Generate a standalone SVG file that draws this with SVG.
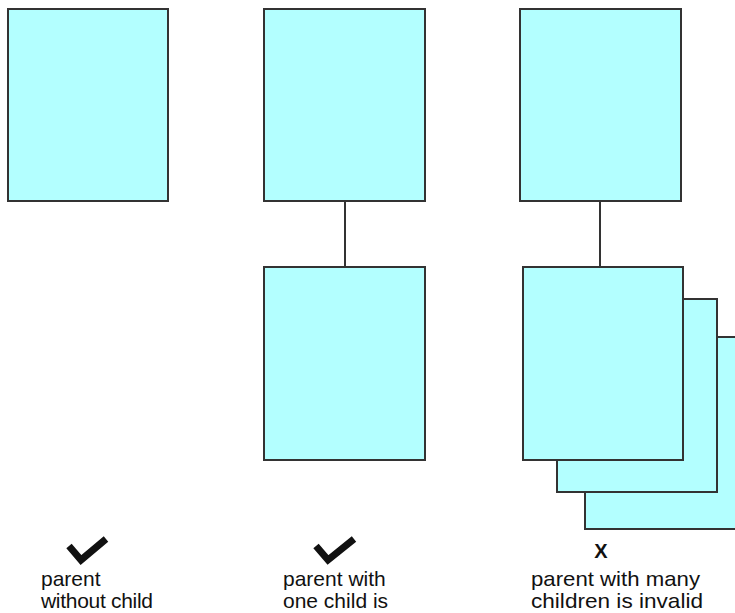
<svg xmlns="http://www.w3.org/2000/svg" width="735" height="613" viewBox="0 0 735 613">
<style>
.box{fill:#b3ffff;stroke:#333;stroke-width:2}
.conn{stroke:#333;stroke-width:2;fill:none}
.lbl{font-family:"Liberation Sans",Arial,sans-serif;font-size:21px;fill:#111}
.chk{fill:none;stroke:#111;stroke-width:7;stroke-linejoin:miter;stroke-linecap:butt}
</style>
<rect width="735" height="613" fill="#fff"/>
<g id="parent1"><rect class="box" x="8" y="9" width="160" height="192"/></g>
<g id="parent2"><rect class="box" x="264" y="9" width="161" height="192"/></g>
<g id="child2"><rect class="box" x="264" y="267" width="161" height="193"/></g>
<g id="parent3"><rect class="box" x="520" y="9" width="161" height="192"/></g>
<g id="child3c"><rect class="box" x="585" y="337" width="161" height="192"/></g>
<g id="child3b"><rect class="box" x="557" y="299" width="160" height="193"/></g>
<g id="child3a"><rect class="box" x="523" y="267" width="160" height="193"/></g>
<g id="connectors">
<line class="conn" x1="345" y1="201" x2="345" y2="267"/>
<line class="conn" x1="600" y1="201" x2="600" y2="267"/>
</g>
<g id="label1">
<path class="chk" d="M69,546 L81,560 L106,539"/>
<text class="lbl" x="41" y="586">parent</text>
<text class="lbl" x="41" y="608" letter-spacing="-0.3">without child</text>
</g>
<g id="label2">
<path class="chk" d="M316,546 L328,560 L354,539"/>
<text class="lbl" x="283" y="586">parent with</text>
<text class="lbl" x="283" y="608">one child is</text>
</g>
<g id="label3">
<text x="601" y="558" text-anchor="middle" style="font-family:'Liberation Sans',Arial,sans-serif;font-size:20px;font-weight:bold;fill:#111">X</text>
<text class="lbl" x="531" y="586" textLength="169" lengthAdjust="spacingAndGlyphs">parent with many</text>
<text class="lbl" x="531" y="608" textLength="172" lengthAdjust="spacingAndGlyphs">children is invalid</text>
</g>
</svg>
